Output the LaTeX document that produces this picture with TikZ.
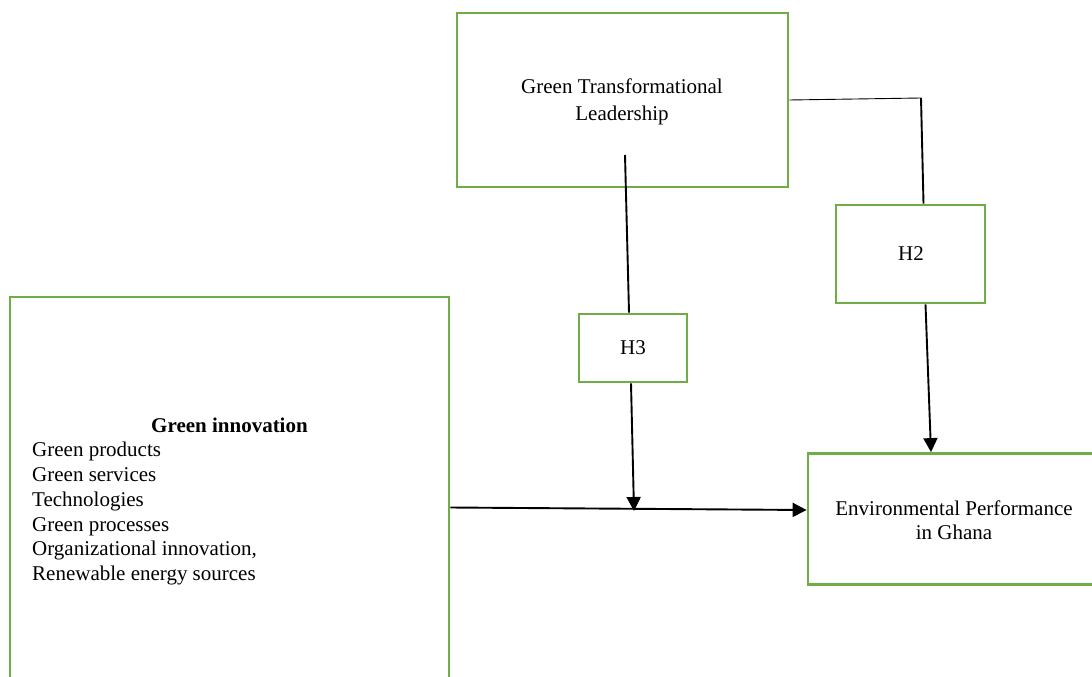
\documentclass[tikz,border=0pt]{standalone}
\usepackage{fontspec}
\setmainfont{Liberation Serif}
\usetikzlibrary{arrows.meta,calc}
\definecolor{boxgreen}{RGB}{112,173,71}
\begin{document}
\begin{tikzpicture}[x=1pt,y=-1pt,
  box/.style={draw=boxgreen,line width=2.8pt,inner sep=0pt},
  conn/.style={line width=1.9pt},
  thinconn/.style={line width=0.9pt},
  tip/.style={-{Triangle[length=14pt,width=14pt]}},
  lbl/.style={font=\fontsize{21}{25}\selectfont,align=center,inner sep=0pt},
  listtxt/.style={font=\fontsize{21}{24.8}\selectfont,align=left,inner sep=0pt}]
\useasboundingbox (0,0) rectangle (1092,677);
\clip (0,0) rectangle (1092,677);
% boxes
\node[box,minimum width=331pt,minimum height=174pt] (gtl) at (622.5,100) {};
\node[box,minimum width=439pt,minimum height=403pt] (gi) at (229.5,498.5) {};
\node[box,minimum width=108pt,minimum height=68pt] (h3) at (633,348) {};
\node[box,minimum width=149pt,minimum height=98pt] (h2) at (910.5,254) {};
\node[box,minimum width=302pt,minimum height=131pt] (ep) at (959,519) {};
% texts
\node[lbl,font=\fontsize{21}{27}\selectfont] (gtlt) at (622,101.5) {Green Transformational\\Leadership};
\node[lbl] (h3t) at (633,348) {H3};
\node[lbl] (h2t) at (911,254) {H2};
\node[lbl,font=\fontsize{21}{24}\selectfont] (ept) at (954,520) {Environmental Performance\\in Ghana};
\node[listtxt,font=\fontsize{21}{24.8}\selectfont\bfseries] (gih) at (229.5,425) {Green innovation};
\node[listtxt,anchor=north west] (gil) at (32,442) {Green products\\Green services\\Technologies\\Green processes\\Organizational innovation,\\Renewable energy sources};
% connectors
\coordinate (a1) at (625,155);
\coordinate (j) at (634,511);
\coordinate (c1) at (921,98);
\draw[conn] (a1) -- ($(h3.north)+(-4,0)$);
\draw[conn,tip] ($(h3.south)+(-2,0)$) -- (j);
\draw[conn,tip] ($(gi.east)+(0,9)$) -- ($(ep.west)+(0,-9)$);
\draw[thinconn] (gtl.east) -- (c1);
\draw[conn] (c1) -- ($(h2.north)+(13,0)$);
\draw[conn,tip] ($(h2.south)+(15,0)$) -- ($(ep.north)+(-28,0)$);
\end{tikzpicture}
\end{document}
